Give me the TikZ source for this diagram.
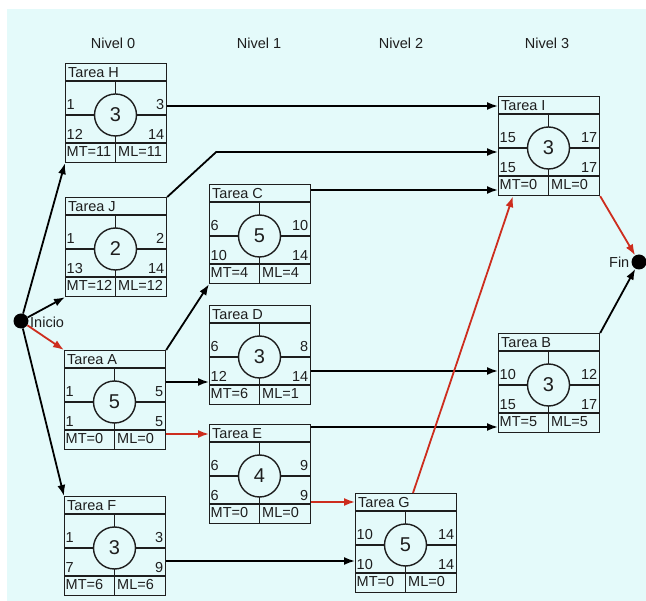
\documentclass[tikz,border=0pt]{standalone}
\usepackage{fontspec}
\setmainfont{Liberation Sans}
\usetikzlibrary{arrows.meta}

\definecolor{fondo}{RGB}{228,250,250}
\definecolor{rojo}{RGB}{205,45,30}
\definecolor{trazo}{RGB}{30,30,30}

\newcommand{\tarea}[9]{%
\begin{scope}[shift={(#2)}]
\node[caja] (#1) at (0,0) {};
\draw[interior] (0,18) -- (101,18) (0,80) -- (101,80) (50.5,18) -- (50.5,99) (0,52) -- (101,52);
\node[anchor=west] (#1-tit) at (3,9.5) {Tarea #1};
\node[dur] (#1-dur) at (50.5,52) {#3};
\node[anchor=base west] (#1-ic) at (1.5,47) {#4};
\node[anchor=base east] (#1-fc) at (99.5,47) {#5};
\node[anchor=base west] (#1-it) at (1.5,77) {#6};
\node[anchor=base east] (#1-ft) at (99.5,77) {#7};
\node[anchor=base west] (#1-mt) at (1.5,94) {MT=#8};
\node[anchor=base west] (#1-ml) at (53,94) {ML=#9};
\end{scope}}

\begin{document}
\begin{tikzpicture}[x=1pt,y=-1pt,
  every node/.style={font=\fontsize{14.5}{16}\selectfont, inner sep=0pt, text=trazo},
  caja/.style={draw=trazo, line width=1.2pt, minimum width=101pt, minimum height=99pt, anchor=north west},
  interior/.style={draw=trazo, line width=1.2pt},
  dur/.style={circle, draw=trazo, line width=1.4pt, fill=fondo, minimum size=42pt, font=\fontsize{20}{22}\selectfont},
  punto/.style={circle, fill=black, minimum size=15pt},
  flecha/.style={line width=1.8pt, -{Latex[length=11pt,width=8pt]}}]
\fill[white] (0,0) rectangle (646,601);
\fill[fondo] (7,9) rectangle (646,601);
\useasboundingbox (0,0) rectangle (646,601);

\node (niv0) at (113,43) {Nivel 0};
\node (niv1) at (259,43) {Nivel 1};
\node (niv2) at (401,43) {Nivel 2};
\node (niv3) at (547,43) {Nivel 3};

\tarea{H}{65,63}{3}{1}{3}{12}{14}{11}{11}
\tarea{J}{65,197}{2}{1}{2}{13}{14}{12}{12}
\tarea{A}{64,350}{5}{1}{5}{1}{5}{0}{0}
\tarea{F}{64,496}{3}{1}{3}{7}{9}{6}{6}
\tarea{C}{209,184}{5}{6}{10}{10}{14}{4}{4}
\tarea{D}{209,305}{3}{6}{8}{12}{14}{6}{1}
\tarea{E}{209,424}{4}{6}{9}{6}{9}{0}{0}
\tarea{G}{355,493}{5}{10}{14}{10}{14}{0}{0}
\tarea{I}{498,96}{3}{15}{17}{15}{17}{0}{0}
\tarea{B}{498,333}{3}{10}{12}{15}{17}{5}{5}

\node[punto] (ini) at (21,321) {};
\node[anchor=west] (ini-t) at (30,322) {Inicio};
\node[punto] (fin) at (639,262) {};
\node[anchor=east] (fin-t) at (629.5,262) {Fin};

\draw[flecha] (ini) -- (H.south west);
\draw[flecha] (ini) -- (J.south west);
\draw[flecha,rojo] (ini) -- (A.north west);
\draw[flecha] (ini) -- (F.north west);
\draw[flecha] ([yshift=-43pt]H.north east) -- ([yshift=-43pt]H.north east -| I.west);
\draw[flecha] (J.north east) -- ++(49,-45) coordinate (jq) -- (jq -| I.west);
\draw[flecha] ([yshift=-6pt]C.north east) -- ([yshift=-6pt]C.north east -| I.west);
\draw[flecha] (A.north east) -- (C.south west);
\draw[flecha] ([yshift=-32pt]A.north east) -- ([yshift=-32pt]A.north east -| D.west);
\draw[flecha,rojo] ([yshift=-84pt]A.north east) -- ([yshift=-84pt]A.north east -| E.west);
\draw[flecha] ([yshift=-66pt]D.north east) -- ([yshift=-66pt]D.north east -| B.west);
\draw[flecha] ([yshift=-3pt]E.north east) -- ([yshift=-3pt]E.north east -| B.west);
\draw[flecha,rojo] ([yshift=-78pt]E.north east) -- ([yshift=-78pt]E.north east -| G.west);
\draw[flecha] ([yshift=-65pt]F.north east) -- ([yshift=-65pt]F.north east -| G.west);
\draw[flecha,rojo] ([xshift=58pt]G.north west) -- ([xshift=15pt]I.south west);
\draw[flecha,rojo] (I.south east) -- (fin);
\draw[flecha] (B.north east) -- (fin);
\end{tikzpicture}
\end{document}
